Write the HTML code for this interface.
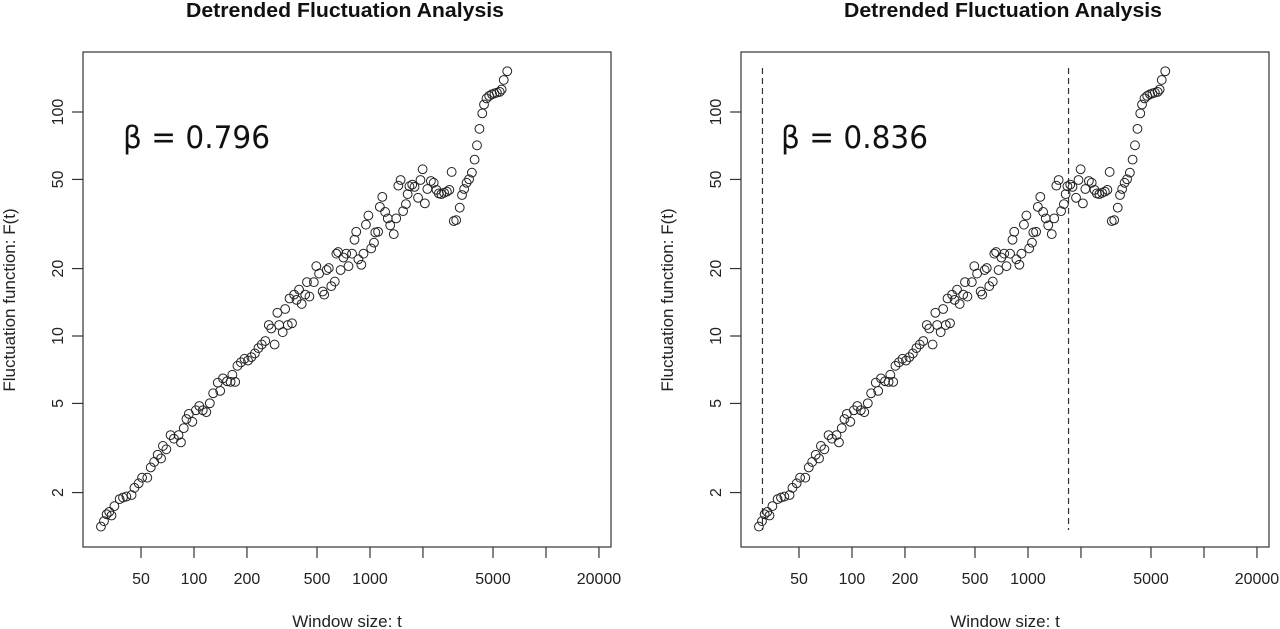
<!DOCTYPE html>
<html><head><meta charset="utf-8"><style>
html,body{margin:0;padding:0;background:#fff;width:1280px;height:629px;overflow:hidden}
svg{display:block;font-family:"Liberation Sans",Arial,sans-serif}
</style></head><body>
<svg id="chart" width="1280" height="629" viewBox="0 0 1280 629"></svg>
<script>
const xTicks=[50,100,200,500,1000,2000,5000,10000,20000];
const xTickLabels=["50","100","200","500","1000","","5000","","20000"];
const yTicks=[2,5,10,20,50,100];
const yTickLabels=["2","5","10","20","50","100"];
const betaLabels=["β = 0.796","β = 0.836"];
const cutoffs=[31,1700];
const tVals=[29.6,30.8,31.9,34.0,33.0,35.3,37.8,39.5,41.3,44.2,45.9,48.5,50.7,54.3,56.8,59.4,62.2,65.0,66.6,69.7,73.6,76.9,81.7,84.3,87.5,90.6,93.5,97.9,102.5,107.2,112.2,117.5,123.0,128.5,136.5,140.9,146.2,154.2,161.4,165.2,171.4,176.6,184.9,193.6,202.8,211.8,221.8,232.3,242.7,254.1,266.1,274.8,287.1,297.8,304.8,319.2,329.6,341.2,360.6,349.1,370.7,382.8,395.4,409.3,428.5,438.5,452.9,479.8,495.5,514.0,538.3,549.5,567.5,583.4,602.6,631.0,644.2,659.2,680.8,706.3,732.8,755.1,790.7,816.6,835.6,859.0,893.3,918.3,948.4,979.5,1016,1054,1072,1112,1138,1175,1219,1262,1303,1365,1409,1449,1493,1542,1600,1637,1675,1738,1791,1875,1936,1991,2051,2118,2218,2301,2388,2462,2543,2636,2735,2825,2911,2992,3090,3236,3334,3428,3540,3656,3793,3930,4055,4188,4345,4446,4592,4757,4936,5096,5260,5457,5598,5754,6026];
const fVals=[1.41,1.49,1.60,1.58,1.64,1.74,1.87,1.90,1.92,1.95,2.10,2.20,2.33,2.33,2.59,2.74,2.95,2.84,3.23,3.12,3.61,3.48,3.61,3.35,3.88,4.26,4.49,4.14,4.66,4.87,4.66,4.57,5.01,5.55,6.19,5.69,6.47,6.28,6.24,6.71,6.24,7.36,7.63,7.91,7.77,8.05,8.36,8.83,9.16,9.50,11.2,10.8,9.16,12.7,11.2,10.4,13.2,11.2,11.4,14.7,15.3,14.5,16.1,13.9,15.3,17.4,15.0,17.4,20.5,19.0,15.8,15.3,19.7,20.1,16.7,17.5,23.3,23.7,19.7,22.4,23.3,20.5,23.3,26.9,29.2,22.0,20.8,23.3,31.4,34.5,24.6,26.1,29.0,29.2,37.7,41.8,35.8,33.5,31.2,28.5,33.5,46.9,49.7,36.1,38.8,43.0,46.6,47.4,46.3,41.4,49.7,55.5,39.1,45.3,49.2,48.3,44.9,43.3,43.0,43.6,44.1,44.9,54.0,32.6,32.9,37.4,42.6,45.3,48.3,50.1,53.6,61.3,71.0,84.1,98.6,108,115,118,120,121,122,123,126,139,152];

const NS="http://www.w3.org/2000/svg";
const svg=document.getElementById('chart');
function mk(tag,attrs,parent,text){const e=document.createElementNS(NS,tag);for(const k in attrs)e.setAttribute(k,attrs[k]);if(text!==undefined)e.textContent=text;(parent||svg).appendChild(e);return e;}
const L=Math.log10;
function xs(t,off){return off+141+(L(t)-L(50))*176;}
function ys(f){return 336-(L(f)-1)*224;}

[0,658].forEach((off,pi)=>{
  const g=mk('g',{});
  
  
  const title=mk('text',{x:off+345,y:17,'text-anchor':'middle','font-size':'20','font-weight':'bold',fill:'#111',textLength:'318',lengthAdjust:'spacingAndGlyphs'},g,'Detrended Fluctuation Analysis');
  
  
  const box=mk('rect',{x:off+83,y:52,width:528,height:495,fill:'none',stroke:'#333','stroke-width':1.2},g);
  
  
  xTicks.forEach((v,i)=>{
    const x=xs(v,off);
    const tk=mk('line',{x1:x,x2:x,y1:547,y2:558,stroke:'#333','stroke-width':1.2},g);
    
    
    if(xTickLabels[i]){const tl=mk('text',{x:x,y:584,'text-anchor':'middle','font-size':'16',fill:'#222'},g,xTickLabels[i]);
    
    }
  });
  yTicks.forEach((v,i)=>{
    const y=ys(v);
    const tk=mk('line',{x1:off+72,x2:off+83,y1:y,y2:y,stroke:'#333','stroke-width':1.2},g);
    
    
    const tl=mk('text',{x:off+63,y:y,'text-anchor':'middle','font-size':'16',fill:'#222',transform:`rotate(-90 ${off+63} ${y})`},g,yTickLabels[i]);
    
    
  });
  const xl=mk('text',{x:off+347,y:627,'text-anchor':'middle','font-size':'17',fill:'#222'},g,'Window size: t');
  
  
  const yl=mk('text',{x:off+15,y:300,'text-anchor':'middle','font-size':'17',fill:'#222',transform:`rotate(-90 ${off+15} 300)`},g,'Fluctuation function: F(t)');
  
  
  const bt=mk('text',{x:off+123,y:148,'font-size':'31',fill:'#111','font-family':'"DejaVu Sans",sans-serif',textLength:'147',lengthAdjust:'spacingAndGlyphs'},g,betaLabels[pi]);
  
  
  if(pi===1){
    cutoffs.forEach(c=>{
      const x=xs(c,off);
      const dl=mk('line',{x1:x,x2:x,y1:68,y2:530,stroke:'#333','stroke-width':1.2,'stroke-dasharray':'6,4'},g);
      
      
    });
  }
  tVals.forEach((t,i)=>{
    const c=mk('circle',{cx:xs(t,off),cy:ys(fVals[i]),r:4.4,fill:'none',stroke:'#222','stroke-width':1},g);
    
    
  });
});
</script>
</body></html>
